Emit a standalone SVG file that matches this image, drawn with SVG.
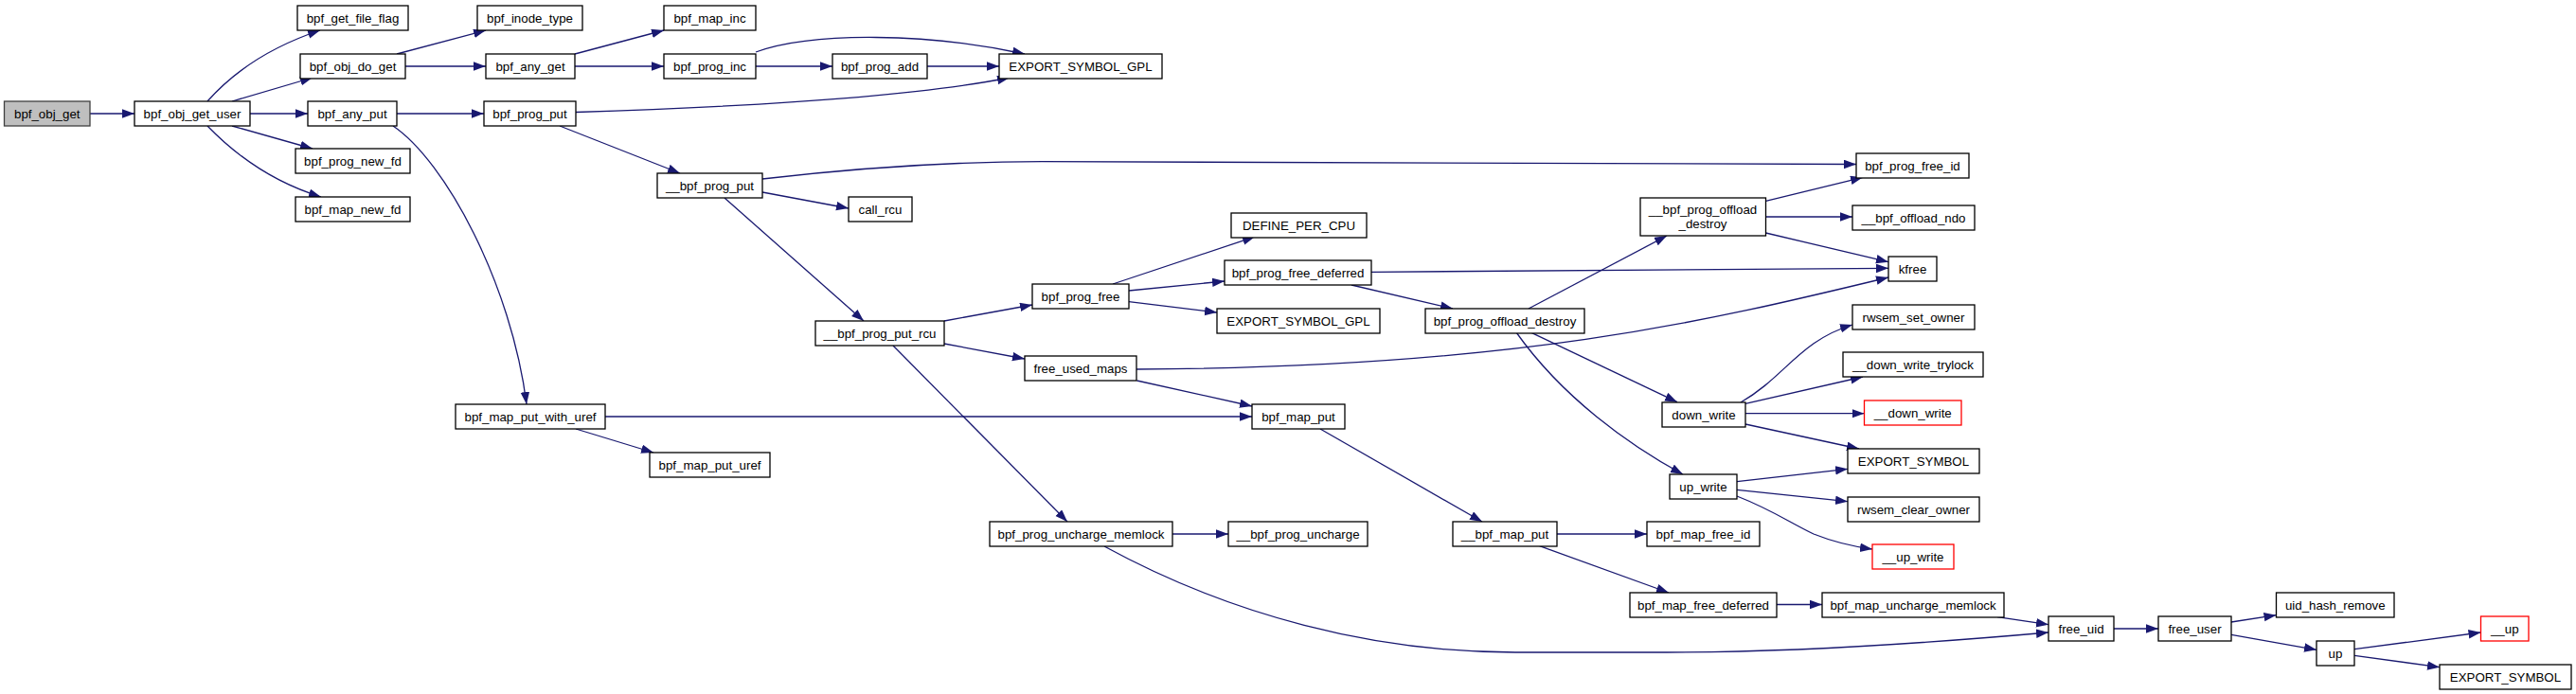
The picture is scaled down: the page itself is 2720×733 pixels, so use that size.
<svg xmlns="http://www.w3.org/2000/svg" width="2720" height="733" viewBox="0 0 2720 733">
<style>
.n rect{fill:#fff;stroke:#000;stroke-width:1.3}
.n.root rect{fill:#bfbfbf;stroke:#404040}
.n.red rect{stroke:#ff0000}
.n text{font-family:"Liberation Sans",Arial,Helvetica,sans-serif;font-size:13.3px;text-anchor:middle;fill:#000}
#edges path{fill:none;stroke:#191970;stroke-width:1.3;marker-end:url(#arr)}
</style>
<defs>
<marker id="arr" markerUnits="userSpaceOnUse" markerWidth="14" markerHeight="11" refX="13" refY="4.75" orient="auto">
<path d="M0,0 L13,4.75 L0,9.5 z" fill="#191970"/>
</marker>
</defs>
<rect width="2720" height="733" fill="#fff"/>
<g id="edges">
<path d="M95,120 L142,120"/>
<path d="M219,107 C250,72 290,48 338,32"/>
<path d="M245,107 L330,82"/>
<path d="M264,120 L325,120"/>
<path d="M245,133 L330,157"/>
<path d="M219,133 C250,165 290,193 339,208"/>
<path d="M419,57 L513,32"/>
<path d="M428,70 L513,70"/>
<path d="M607,57 L701,32"/>
<path d="M607,70 L701,70"/>
<path d="M419,120 L511,120"/>
<path d="M415,133 C470,170 540,300 556,427"/>
<path d="M608,118.5 C750,114 950,105 1066,82"/>
<path d="M591,133 L718,183"/>
<path d="M798,55 C860,33 980,35 1082,57"/>
<path d="M798,70 L879,70"/>
<path d="M979,70 L1055,70"/>
<path d="M805,189 C900,178 1000,170.7 1100,170.7 L1960,173.5"/>
<path d="M805,203 L896,220"/>
<path d="M765,209 L912,339"/>
<path d="M997,339 L1090,322"/>
<path d="M997,363 L1082,379"/>
<path d="M943,365 L1127,551"/>
<path d="M1175,300 L1325,250"/>
<path d="M1192,307 L1293,297"/>
<path d="M1192,318.7 L1285,330"/>
<path d="M1448,287.3 L1994,283.3"/>
<path d="M1427,301 L1534,326"/>
<path d="M1614,326 L1760,249"/>
<path d="M1864.5,212.3 L1967,187.3"/>
<path d="M1864.5,229 L1956,229"/>
<path d="M1864.5,246 L1994,276.7"/>
<path d="M1200,390 C1600,388 1800,340 1994,293"/>
<path d="M1200.5,402 L1322,429"/>
<path d="M639,440 L1322,440"/>
<path d="M608,453 L690,478"/>
<path d="M1238,564 L1297,564"/>
<path d="M1166,577 C1300,650 1450,689 1600,689 L1760,689 C1900,689 2050,678 2163,668"/>
<path d="M1394,453 L1565,551"/>
<path d="M1617,351.3 L1771,424.7"/>
<path d="M1601,351 C1650,420 1720,470 1777,501"/>
<path d="M1838,425 C1885,398 1900,360 1956,343"/>
<path d="M1843,426.3 L1967,398"/>
<path d="M1843,436.7 L1968.5,436.7"/>
<path d="M1843,448 L1963,474"/>
<path d="M1834,508.7 L1951,495.3"/>
<path d="M1834,517.3 L1951,529.7"/>
<path d="M1834,524 C1870,538 1890,552 1915,564 C1935,572 1955,577 1977,580"/>
<path d="M1644,564 L1739,564"/>
<path d="M1625.6,576.7 L1762,626"/>
<path d="M1876,638.5 L1924,638.5"/>
<path d="M2109,651.7 L2163,659.7"/>
<path d="M2232,664 L2279,664"/>
<path d="M2356,657 L2403.5,649.7"/>
<path d="M2356,670.3 L2446,686.3"/>
<path d="M2486,685.7 L2619.5,668"/>
<path d="M2486,692.3 L2576,704.7"/>
</g>
<g id="n1" class="n root"><rect x="4.5" y="107" width="90.5" height="26"/><text x="49.75" y="124.6">bpf_obj_get</text></g>
<g id="n2" class="n"><rect x="142" y="107" width="122" height="26"/><text x="203" y="124.6">bpf_obj_get_user</text></g>
<g id="n3" class="n"><rect x="314" y="6" width="117" height="26"/><text x="372.5" y="23.6">bpf_get_file_flag</text></g>
<g id="n4" class="n"><rect x="317" y="57" width="111" height="26"/><text x="372.5" y="74.6">bpf_obj_do_get</text></g>
<g id="n5" class="n"><rect x="325" y="107" width="94" height="26"/><text x="372" y="124.6">bpf_any_put</text></g>
<g id="n6" class="n"><rect x="312" y="157" width="121" height="26"/><text x="372.5" y="174.6">bpf_prog_new_fd</text></g>
<g id="n7" class="n"><rect x="312" y="208" width="121" height="26"/><text x="372.5" y="225.6">bpf_map_new_fd</text></g>
<g id="n8" class="n"><rect x="504" y="6" width="111" height="26"/><text x="559.5" y="23.6">bpf_inode_type</text></g>
<g id="n9" class="n"><rect x="513" y="57" width="94" height="26"/><text x="560" y="74.6">bpf_any_get</text></g>
<g id="n10" class="n"><rect x="511" y="107" width="97" height="26"/><text x="559.5" y="124.6">bpf_prog_put</text></g>
<g id="n11" class="n"><rect x="481" y="427" width="158" height="26"/><text x="560" y="444.6">bpf_map_put_with_uref</text></g>
<g id="n12" class="n"><rect x="701" y="6" width="97" height="26"/><text x="749.5" y="23.6">bpf_map_inc</text></g>
<g id="n13" class="n"><rect x="701" y="57" width="97" height="26"/><text x="749.5" y="74.6">bpf_prog_inc</text></g>
<g id="n14" class="n"><rect x="879" y="57" width="100" height="26"/><text x="929" y="74.6">bpf_prog_add</text></g>
<g id="n15" class="n"><rect x="1055" y="57" width="172" height="26"/><text x="1141" y="74.6">EXPORT_SYMBOL_GPL</text></g>
<g id="n16" class="n"><rect x="694" y="183" width="111" height="26"/><text x="749.5" y="200.6">__bpf_prog_put</text></g>
<g id="n17" class="n"><rect x="896" y="208" width="67" height="26"/><text x="929.5" y="225.6">call_rcu</text></g>
<g id="n18" class="n"><rect x="686" y="478" width="127" height="26"/><text x="749.5" y="495.6">bpf_map_put_uref</text></g>
<g id="n19" class="n"><rect x="861" y="339" width="136" height="26"/><text x="929" y="356.6">__bpf_prog_put_rcu</text></g>
<g id="n20" class="n"><rect x="1090" y="300" width="102" height="26"/><text x="1141" y="317.6">bpf_prog_free</text></g>
<g id="n21" class="n"><rect x="1082" y="376" width="118" height="26"/><text x="1141" y="393.6">free_used_maps</text></g>
<g id="n22" class="n"><rect x="1045" y="551" width="193" height="26"/><text x="1141.5" y="568.6">bpf_prog_uncharge_memlock</text></g>
<g id="n23" class="n"><rect x="1300" y="225" width="143" height="26"/><text x="1371.5" y="242.6">DEFINE_PER_CPU</text></g>
<g id="n24" class="n"><rect x="1293" y="275" width="155" height="26"/><text x="1370.5" y="292.6">bpf_prog_free_deferred</text></g>
<g id="n25" class="n"><rect x="1285" y="326" width="172" height="26"/><text x="1371" y="343.6">EXPORT_SYMBOL_GPL</text></g>
<g id="n26" class="n"><rect x="1322" y="427" width="98" height="26"/><text x="1371" y="444.6">bpf_map_put</text></g>
<g id="n27" class="n"><rect x="1297" y="551" width="147" height="26"/><text x="1370.5" y="568.6">__bpf_prog_uncharge</text></g>
<g id="n28" class="n"><rect x="1505" y="326" width="168" height="26"/><text x="1589" y="343.6">bpf_prog_offload_destroy</text></g>
<g id="n29" class="n"><rect x="1534" y="551" width="110" height="26"/><text x="1589" y="568.6">__bpf_map_put</text></g>
<g id="n30" class="n"><rect x="1732" y="209" width="132.5" height="40"/><text x="1798" y="226">__bpf_prog_offload</text><text x="1798" y="240.5">_destroy</text></g>
<g id="n31" class="n"><rect x="1755" y="425" width="88" height="26"/><text x="1799" y="442.6">down_write</text></g>
<g id="n32" class="n"><rect x="1763" y="501" width="71" height="26"/><text x="1798.5" y="518.6">up_write</text></g>
<g id="n33" class="n"><rect x="1739" y="551" width="119" height="26"/><text x="1798.5" y="568.6">bpf_map_free_id</text></g>
<g id="n34" class="n"><rect x="1721" y="626" width="155" height="26"/><text x="1798.5" y="643.6">bpf_map_free_deferred</text></g>
<g id="n35" class="n"><rect x="1960" y="162" width="119" height="26"/><text x="2019.5" y="179.6">bpf_prog_free_id</text></g>
<g id="n36" class="n"><rect x="1956" y="217" width="129" height="26"/><text x="2020.5" y="234.6">__bpf_offload_ndo</text></g>
<g id="n37" class="n"><rect x="1994" y="271" width="51" height="26"/><text x="2019.5" y="288.6">kfree</text></g>
<g id="n38" class="n"><rect x="1956" y="322" width="129" height="26"/><text x="2020.5" y="339.6">rwsem_set_owner</text></g>
<g id="n39" class="n"><rect x="1946" y="372" width="148" height="26"/><text x="2020" y="389.6">__down_write_trylock</text></g>
<g id="n40" class="n red"><rect x="1968.5" y="423" width="102.5" height="26"/><text x="2019.75" y="440.6">__down_write</text></g>
<g id="n41" class="n"><rect x="1951" y="474" width="139" height="26"/><text x="2020.5" y="491.6">EXPORT_SYMBOL</text></g>
<g id="n42" class="n"><rect x="1951" y="525" width="139" height="26"/><text x="2020.5" y="542.6">rwsem_clear_owner</text></g>
<g id="n43" class="n red"><rect x="1977" y="575" width="86" height="26"/><text x="2020" y="592.6">__up_write</text></g>
<g id="n44" class="n"><rect x="1924" y="626" width="192" height="26"/><text x="2020" y="643.6">bpf_map_uncharge_memlock</text></g>
<g id="n45" class="n"><rect x="2163" y="651" width="69" height="26"/><text x="2197.5" y="668.6">free_uid</text></g>
<g id="n46" class="n"><rect x="2279" y="651" width="77" height="26"/><text x="2317.5" y="668.6">free_user</text></g>
<g id="n47" class="n"><rect x="2403.5" y="626" width="124.5" height="26"/><text x="2465.75" y="643.6">uid_hash_remove</text></g>
<g id="n48" class="n"><rect x="2446" y="677" width="40" height="26"/><text x="2466" y="694.6">up</text></g>
<g id="n49" class="n red"><rect x="2619.5" y="651" width="50.5" height="26"/><text x="2644.75" y="668.6">__up</text></g>
<g id="n50" class="n"><rect x="2576" y="702" width="139" height="26"/><text x="2645.5" y="719.6">EXPORT_SYMBOL</text></g>
</svg>
